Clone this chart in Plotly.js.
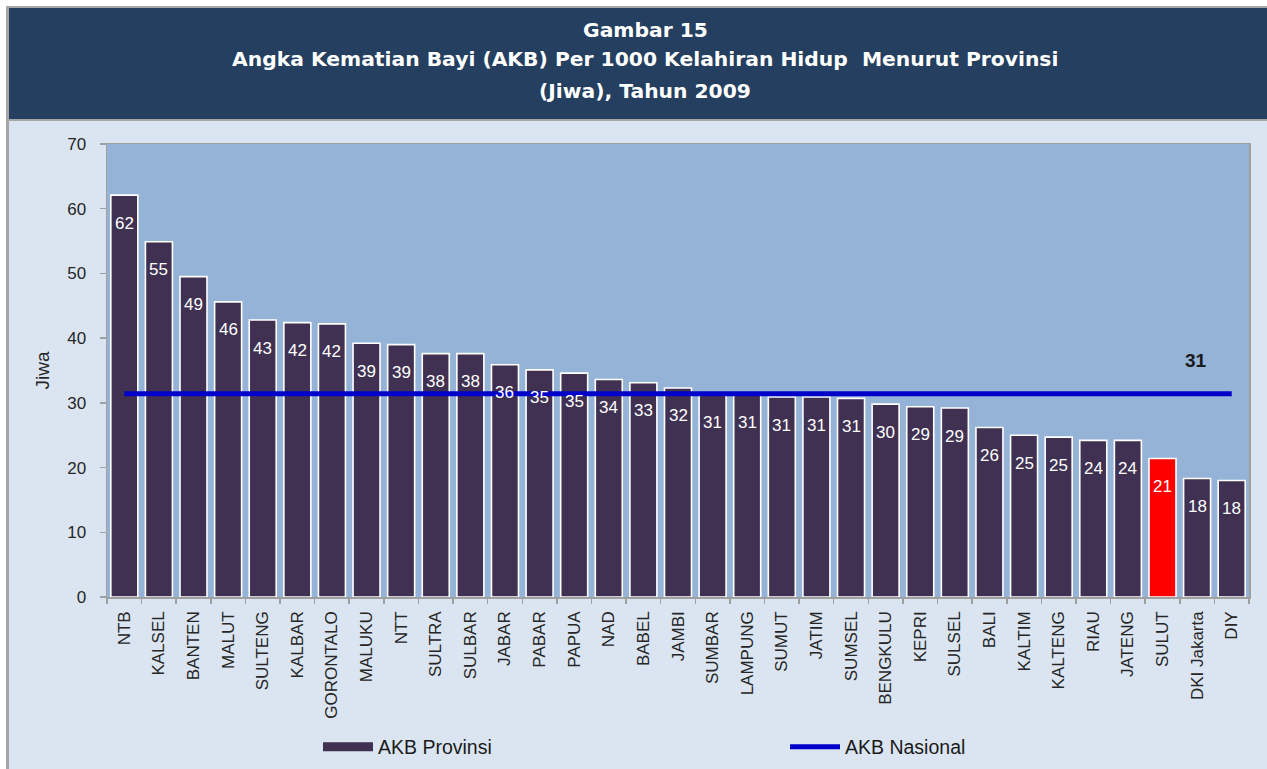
<!DOCTYPE html>
<html>
<head>
<meta charset="utf-8">
<script src="https://cdn.plot.ly/plotly-3.0.1.min.js"></script>
<style>
  html, body { margin: 0; padding: 0; background: #ffffff; }
  #chart { width: 1267px; height: 769px; }
</style>
</head>
<body>
<div id="chart"></div>
<script>
// ---- data ----
const provinces = ["NTB", "KALSEL", "BANTEN", "MALUT", "SULTENG", "KALBAR", "GORONTALO", "MALUKU", "NTT", "SULTRA", "SULBAR", "JABAR", "PABAR", "PAPUA", "NAD", "BABEL", "JAMBI", "SUMBAR", "LAMPUNG", "SUMUT", "JATIM", "SUMSEL", "BENGKULU", "KEPRI", "SULSEL", "BALI", "KALTIM", "KALTENG", "RIAU", "JATENG", "SULUT", "DKI Jakarta", "DIY"];
const akbProvinsi = [62.1, 54.9, 49.5, 45.6, 42.8, 42.4, 42.2, 39.2, 39.0, 37.6, 37.6, 35.9, 35.1, 34.6, 33.6, 33.1, 32.3, 31.3, 31.3, 30.9, 30.9, 30.7, 29.8, 29.4, 29.2, 26.2, 25.0, 24.7, 24.2, 24.2, 21.4, 18.3, 18.0];
const valueLabels = ["62", "55", "49", "46", "43", "42", "42", "39", "39", "38", "38", "36", "35", "35", "34", "33", "32", "31", "31", "31", "31", "31", "30", "29", "29", "26", "25", "25", "24", "24", "21", "18", "18"];
const akbNasional = 31.4;
const akbNasionalLabel = "31";
const highlightProvince = "SULUT";
const yTicks = [0, 10, 20, 30, 40, 50, 60, 70];

// ---- styling / layout helpers ----
const W = 1267, H = 769;
const L = 107, R = 1249, T = 144, B = 597;
const px = x => (x - L) / (R - L);
const py = y => (B - y) / (B - T);
const cx = x => x / W;
const cy = y => 1 - y / H;

const BAR = "#403152";
const LINE = "#0000c8";
const ticksFont = { family: "Liberation Sans, Arial, sans-serif", size: 17, color: "#262626" };
const legendFont = { family: "Liberation Sans, Arial, sans-serif", size: 19.5, color: "#1a1a1a" };

const barColors = provinces.map(p => p === highlightProvince ? "#ff0000" : BAR);

const traces = [
  {
    type: "bar",
    x: provinces,
    y: akbProvinsi,
    name: "AKB Provinsi",
    showlegend: false,
    marker: { color: barColors, line: { color: "#ffffff", width: 1.6 } },
    hoverinfo: "x+y"
  },
  {
    type: "scatter",
    mode: "lines",
    x: provinces,
    y: provinces.map(() => akbNasional),
    name: "AKB Nasional",
    line: { color: LINE, width: 5 },
    showlegend: false
  },
  // legend entries
  {
    type: "scatter", mode: "lines", x: [null], y: [null], legend: "legend",
    name: "AKB Provinsi", line: { color: BAR, width: 9 }, hoverinfo: "skip"
  },
  {
    type: "scatter", mode: "lines", x: [null], y: [null], legend: "legend2",
    name: "AKB Nasional", line: { color: LINE, width: 5 }, hoverinfo: "skip"
  }
];

const annotations = provinces.map((p, i) => ({
  x: p, y: akbProvinsi[i], xref: "x", yref: "y",
  text: valueLabels[i], showarrow: false, yshift: -28,
  font: { family: "Liberation Sans, Arial, sans-serif", size: 17, color: "#ffffff" }
}));
annotations.push({
  x: px(1196), xref: "paper", xanchor: "center", y: akbNasional, yref: "y", yshift: 33,
  text: "<b>" + akbNasionalLabel + "</b>", showarrow: false,
  font: { family: "Liberation Sans, Arial, sans-serif", size: 19, color: "#1a1a1a" }
});
const titleLines = [
  ["Gambar 15", 30],
  ["Angka Kematian Bayi (AKB) Per 1000 Kelahiran Hidup  Menurut Provinsi", 59],
  ["(Jiwa), Tahun 2009", 91]
];
titleLines.forEach(([t, y]) => annotations.push({
  x: px(645), y: py(y), xref: "paper", yref: "paper", xanchor: "center", yanchor: "middle",
  text: "<b>" + t + "</b>", showarrow: false,
  font: { family: "DejaVu Sans, Verdana, sans-serif", size: 20.3, color: "#ffffff" }
}));

const shapes = [
  { type: "rect", xref: "paper", yref: "paper", x0: px(6), x1: px(1267), y0: py(6), y1: py(769), fillcolor: "#a6a6a6", line: { width: 0 }, layer: "below" },
  { type: "rect", xref: "paper", yref: "paper", x0: px(9), x1: px(1267), y0: py(121), y1: py(769), fillcolor: "#dbe5f1", line: { width: 0 }, layer: "below" },
  { type: "rect", xref: "paper", yref: "paper", x0: px(9), x1: px(1267), y0: py(8), y1: py(119), fillcolor: "#243f60", line: { width: 0 }, layer: "below" },
  { type: "rect", xref: "paper", yref: "paper", x0: 0, x1: 1, y0: 0, y1: 1, fillcolor: "#95b3d7", line: { width: 0 }, layer: "below" }
];

const layout = {
  width: W, height: H,
  margin: { l: L, r: W - R, t: T, b: H - B, pad: 0 },
  paper_bgcolor: "#ffffff",
  plot_bgcolor: "rgba(0,0,0,0)",
  bargap: 0.22,
  showlegend: true,
  legend: {
    orientation: "h", xref: "container", yref: "container",
    x: cx(318), xanchor: "left", y: cy(747), yanchor: "middle",
    font: legendFont, bgcolor: "rgba(0,0,0,0)", itemwidth: 50
  },
  legend2: {
    orientation: "h", xref: "container", yref: "container",
    x: cx(785), xanchor: "left", y: cy(747), yanchor: "middle",
    font: legendFont, bgcolor: "rgba(0,0,0,0)", itemwidth: 50
  },
  xaxis: {
    type: "category", tickangle: -90, tickfont: ticksFont,
    ticks: "outside", tickson: "boundaries", ticklen: 5, tickcolor: "#a0a0a0", tickwidth: 1.5,
    ticklabelstandoff: 6,
    showline: true, linecolor: "#a0a0a0", linewidth: 1.5, mirror: true,
    showgrid: false, zeroline: false, fixedrange: true
  },
  yaxis: {
    range: [0, 70], tickvals: yTicks, tickfont: ticksFont,
    ticks: "outside", ticklen: 6, tickcolor: "#a0a0a0", tickwidth: 1.5,
    ticklabelstandoff: 10,
    showline: true, linecolor: "#a0a0a0", linewidth: 1.5, mirror: true,
    showgrid: false, zeroline: false, fixedrange: true,
    title: { text: "Jiwa", standoff: 12, font: { family: "Liberation Sans, Arial, sans-serif", size: 19, color: "#262626" } }
  },
  annotations: annotations,
  shapes: shapes
};

Plotly.newPlot("chart", traces, layout, { displayModeBar: false, staticPlot: true });
</script>
</body>
</html>
